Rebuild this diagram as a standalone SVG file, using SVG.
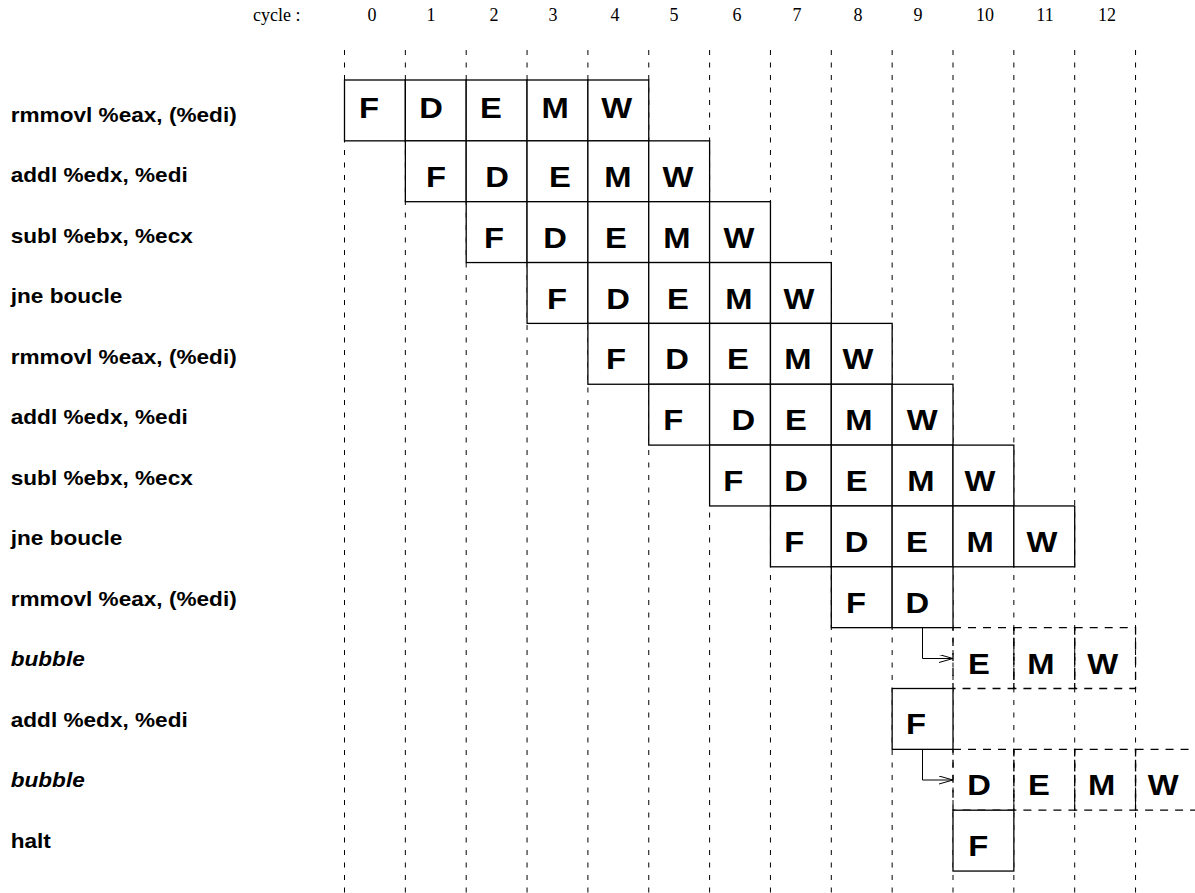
<svg xmlns="http://www.w3.org/2000/svg" width="1195" height="893" viewBox="0 0 1195 893">
<style>
.bg{fill:#fff}
.grid{stroke:#000;stroke-width:1;stroke-dasharray:5 7.5;fill:none}
.cell{fill:#fff;stroke:#000;stroke-width:1.3}
.bub{fill:none;stroke:#000;stroke-width:1.3;stroke-dasharray:8 7}
.hdr{font-family:"Liberation Serif","Times New Roman",serif;font-size:18px;fill:#000}
.num{text-anchor:middle}
.lbl{font-family:"Liberation Sans",Arial,Helvetica,sans-serif;font-weight:bold;font-size:20px;fill:#000}
.it{font-style:italic}
.st{font-family:"Liberation Sans",Arial,Helvetica,sans-serif;font-weight:bold;font-size:29px;fill:#000;text-anchor:middle}
.conn{fill:none;stroke:#000;stroke-width:1}
</style>
<defs>
<marker id="open" markerUnits="userSpaceOnUse" markerWidth="16" markerHeight="10" refX="14" refY="4" orient="auto">
<path d="M0,0 L14,4 L0,8" fill="none" stroke="#000" stroke-width="1"/>
</marker>
</defs>
<rect class="bg" x="0" y="0" width="1195" height="893"/>
<g id="header">
<text class="hdr" x="253" y="21">cycle :</text>
<text class="hdr num" x="372" y="21">0</text>
<text class="hdr num" x="431" y="21">1</text>
<text class="hdr num" x="494" y="21">2</text>
<text class="hdr num" x="553" y="21">3</text>
<text class="hdr num" x="615" y="21">4</text>
<text class="hdr num" x="674" y="21">5</text>
<text class="hdr num" x="737" y="21">6</text>
<text class="hdr num" x="797" y="21">7</text>
<text class="hdr num" x="858" y="21">8</text>
<text class="hdr num" x="918" y="21">9</text>
<text class="hdr num" x="985" y="21">10</text>
<text class="hdr num" x="1045" y="21">11</text>
<text class="hdr num" x="1107" y="21">12</text>
</g>
<g id="grid">
<line class="grid" x1="344.5" y1="50" x2="344.5" y2="893"/>
<line class="grid" x1="405.35" y1="50" x2="405.35" y2="893"/>
<line class="grid" x1="466.2" y1="50" x2="466.2" y2="893"/>
<line class="grid" x1="527.05" y1="50" x2="527.05" y2="893"/>
<line class="grid" x1="587.9" y1="50" x2="587.9" y2="893"/>
<line class="grid" x1="648.75" y1="50" x2="648.75" y2="893"/>
<line class="grid" x1="709.6" y1="50" x2="709.6" y2="893"/>
<line class="grid" x1="770.45" y1="50" x2="770.45" y2="893"/>
<line class="grid" x1="831.3" y1="50" x2="831.3" y2="893"/>
<line class="grid" x1="892.15" y1="50" x2="892.15" y2="893"/>
<line class="grid" x1="953" y1="50" x2="953" y2="893"/>
<line class="grid" x1="1013.85" y1="50" x2="1013.85" y2="893"/>
<line class="grid" x1="1074.7" y1="50" x2="1074.7" y2="893"/>
<line class="grid" x1="1135.55" y1="50" x2="1135.55" y2="893"/>
</g>
<g id="row0">
<text class="lbl" x="9.5" y="121.7" transform="scale(1.13,1)">rmmovl %eax, (%edi)</text>
<rect class="cell" x="344.5" y="80" width="60.85" height="60.85"/>
<rect class="cell" x="405.35" y="80" width="60.85" height="60.85"/>
<rect class="cell" x="466.2" y="80" width="60.85" height="60.85"/>
<rect class="cell" x="527.05" y="80" width="60.85" height="60.85"/>
<rect class="cell" x="587.9" y="80" width="60.85" height="60.85"/>
<g transform="scale(1.13,1)">
<text class="st" x="326.5" y="118.5">F</text><text class="st" x="381.4" y="118.5">D</text><text class="st" x="434.5" y="118.5">E</text><text class="st" x="491.2" y="118.5">M</text><text class="st" x="545.8" y="118.5">W</text>
</g>
</g>
<g id="row1">
<text class="lbl" x="9.5" y="182.2" transform="scale(1.13,1)">addl %edx, %edi</text>
<rect class="cell" x="405.35" y="140.85" width="60.85" height="60.85"/>
<rect class="cell" x="466.2" y="140.85" width="60.85" height="60.85"/>
<rect class="cell" x="527.05" y="140.85" width="60.85" height="60.85"/>
<rect class="cell" x="587.9" y="140.85" width="60.85" height="60.85"/>
<rect class="cell" x="648.75" y="140.85" width="60.85" height="60.85"/>
<g transform="scale(1.13,1)">
<text class="st" x="385.8" y="186.9">F</text><text class="st" x="439.8" y="186.9">D</text><text class="st" x="495.6" y="186.9">E</text><text class="st" x="546.9" y="186.9">M</text><text class="st" x="600" y="186.9">W</text>
</g>
</g>
<g id="row2">
<text class="lbl" x="9.5" y="242.7" transform="scale(1.13,1)">subl %ebx, %ecx</text>
<rect class="cell" x="466.2" y="201.7" width="60.85" height="60.85"/>
<rect class="cell" x="527.05" y="201.7" width="60.85" height="60.85"/>
<rect class="cell" x="587.9" y="201.7" width="60.85" height="60.85"/>
<rect class="cell" x="648.75" y="201.7" width="60.85" height="60.85"/>
<rect class="cell" x="709.6" y="201.7" width="60.85" height="60.85"/>
<g transform="scale(1.13,1)">
<text class="st" x="437.2" y="247.7">F</text><text class="st" x="491.2" y="247.7">D</text><text class="st" x="545.1" y="247.7">E</text><text class="st" x="599.1" y="247.7">M</text><text class="st" x="654" y="247.7">W</text>
</g>
</g>
<g id="row3">
<text class="lbl" x="9.5" y="303.2" transform="scale(1.13,1)">jne boucle</text>
<rect class="cell" x="527.05" y="262.55" width="60.85" height="60.85"/>
<rect class="cell" x="587.9" y="262.55" width="60.85" height="60.85"/>
<rect class="cell" x="648.75" y="262.55" width="60.85" height="60.85"/>
<rect class="cell" x="709.6" y="262.55" width="60.85" height="60.85"/>
<rect class="cell" x="770.45" y="262.55" width="60.85" height="60.85"/>
<g transform="scale(1.13,1)">
<text class="st" x="492.9" y="308.6">F</text><text class="st" x="546.9" y="308.6">D</text><text class="st" x="600" y="308.6">E</text><text class="st" x="654" y="308.6">M</text><text class="st" x="707.1" y="308.6">W</text>
</g>
</g>
<g id="row4">
<text class="lbl" x="9.5" y="363.7" transform="scale(1.13,1)">rmmovl %eax, (%edi)</text>
<rect class="cell" x="587.9" y="323.4" width="60.85" height="60.85"/>
<rect class="cell" x="648.75" y="323.4" width="60.85" height="60.85"/>
<rect class="cell" x="709.6" y="323.4" width="60.85" height="60.85"/>
<rect class="cell" x="770.45" y="323.4" width="60.85" height="60.85"/>
<rect class="cell" x="831.3" y="323.4" width="60.85" height="60.85"/>
<g transform="scale(1.13,1)">
<text class="st" x="545.1" y="369.4">F</text><text class="st" x="599.1" y="369.4">D</text><text class="st" x="653.1" y="369.4">E</text><text class="st" x="706.2" y="369.4">M</text><text class="st" x="759.3" y="369.4">W</text>
</g>
</g>
<g id="row5">
<text class="lbl" x="9.5" y="424.2" transform="scale(1.13,1)">addl %edx, %edi</text>
<rect class="cell" x="648.75" y="384.25" width="60.85" height="60.85"/>
<rect class="cell" x="709.6" y="384.25" width="60.85" height="60.85"/>
<rect class="cell" x="770.45" y="384.25" width="60.85" height="60.85"/>
<rect class="cell" x="831.3" y="384.25" width="60.85" height="60.85"/>
<rect class="cell" x="892.15" y="384.25" width="60.85" height="60.85"/>
<g transform="scale(1.13,1)">
<text class="st" x="595.8" y="430.3">F</text><text class="st" x="657.8" y="430.3">D</text><text class="st" x="704.4" y="430.3">E</text><text class="st" x="760.2" y="430.3">M</text><text class="st" x="816.2" y="430.3">W</text>
</g>
</g>
<g id="row6">
<text class="lbl" x="9.5" y="484.7" transform="scale(1.13,1)">subl %ebx, %ecx</text>
<rect class="cell" x="709.6" y="445.1" width="60.85" height="60.85"/>
<rect class="cell" x="770.45" y="445.1" width="60.85" height="60.85"/>
<rect class="cell" x="831.3" y="445.1" width="60.85" height="60.85"/>
<rect class="cell" x="892.15" y="445.1" width="60.85" height="60.85"/>
<rect class="cell" x="953" y="445.1" width="60.85" height="60.85"/>
<g transform="scale(1.13,1)">
<text class="st" x="648.9" y="491.1">F</text><text class="st" x="704.4" y="491.1">D</text><text class="st" x="758.1" y="491.1">E</text><text class="st" x="815" y="491.1">M</text><text class="st" x="867.3" y="491.1">W</text>
</g>
</g>
<g id="row7">
<text class="lbl" x="9.5" y="545.2" transform="scale(1.13,1)">jne boucle</text>
<rect class="cell" x="770.45" y="505.95" width="60.85" height="60.85"/>
<rect class="cell" x="831.3" y="505.95" width="60.85" height="60.85"/>
<rect class="cell" x="892.15" y="505.95" width="60.85" height="60.85"/>
<rect class="cell" x="953" y="505.95" width="60.85" height="60.85"/>
<rect class="cell" x="1013.85" y="505.95" width="60.85" height="60.85"/>
<g transform="scale(1.13,1)">
<text class="st" x="702.9" y="552">F</text><text class="st" x="758.1" y="552">D</text><text class="st" x="811.5" y="552">E</text><text class="st" x="867.3" y="552">M</text><text class="st" x="922.1" y="552">W</text>
</g>
</g>
<g id="row8">
<text class="lbl" x="9.5" y="605.7" transform="scale(1.13,1)">rmmovl %eax, (%edi)</text>
<rect class="cell" x="831.3" y="566.8" width="60.85" height="60.85"/>
<rect class="cell" x="892.15" y="566.8" width="60.85" height="60.85"/>
<g transform="scale(1.13,1)">
<text class="st" x="757.5" y="612.8">F</text><text class="st" x="811.8" y="612.8">D</text>
</g>
</g>
<g id="row9">
<text class="lbl it" x="9.5" y="666.2" transform="scale(1.13,1)">bubble</text>
<rect class="bub" x="953" y="627.65" width="60.85" height="60.85"/>
<rect class="bub" x="1013.85" y="627.65" width="60.85" height="60.85"/>
<rect class="bub" x="1074.7" y="627.65" width="60.85" height="60.85"/>
<g transform="scale(1.13,1)">
<text class="st" x="866.4" y="673.7">E</text><text class="st" x="921.2" y="673.7">M</text><text class="st" x="975.8" y="673.7">W</text>
</g>
</g>
<g id="row10">
<text class="lbl" x="9.5" y="726.7" transform="scale(1.13,1)">addl %edx, %edi</text>
<rect class="cell" x="892.15" y="688.5" width="60.85" height="60.85"/>
<g transform="scale(1.13,1)">
<text class="st" x="810.6" y="734.5">F</text>
</g>
</g>
<g id="row11">
<text class="lbl it" x="9.5" y="787.2" transform="scale(1.13,1)">bubble</text>
<rect class="bub" x="953" y="749.35" width="60.85" height="60.85"/>
<rect class="bub" x="1013.85" y="749.35" width="60.85" height="60.85"/>
<rect class="bub" x="1074.7" y="749.35" width="60.85" height="60.85"/>
<rect class="bub" x="1135.55" y="749.35" width="60.85" height="60.85"/>
<g transform="scale(1.13,1)">
<text class="st" x="866.4" y="795.4">D</text><text class="st" x="919.5" y="795.4">E</text><text class="st" x="975" y="795.4">M</text><text class="st" x="1029.5" y="795.4">W</text>
</g>
</g>
<g id="row12">
<text class="lbl" x="9.5" y="847.7" transform="scale(1.13,1)">halt</text>
<rect class="cell" x="953" y="810.2" width="60.85" height="60.85"/>
<g transform="scale(1.13,1)">
<text class="st" x="865.8" y="856.2">F</text>
</g>
</g>
<g id="connectors">
<path class="conn" d="M922.5,627.65 V658.5 H953" marker-end="url(#open)"/>
<path class="conn" d="M922.5,749.35 V780 H953" marker-end="url(#open)"/>
</g>
</svg>
